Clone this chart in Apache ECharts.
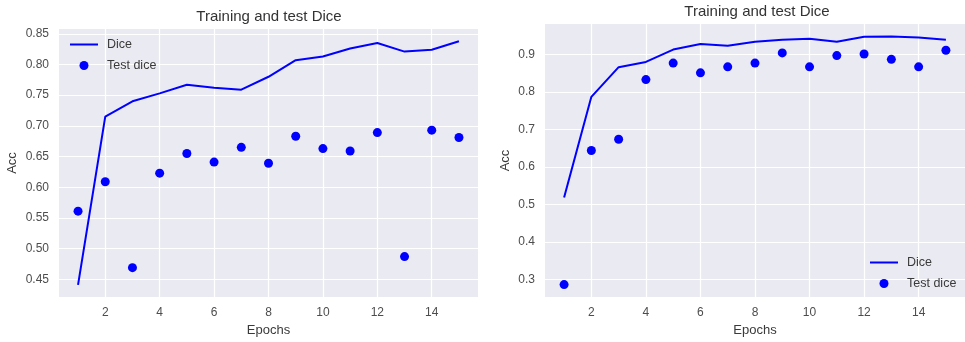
<!DOCTYPE html>
<html>
<head>
<meta charset="utf-8">
<script src="https://cdn.jsdelivr.net/npm/echarts@6/dist/echarts.min.js"></script>
<style>
  html, body { margin: 0; padding: 0; background: #ffffff; }
  #chart { width: 965px; height: 342px; }
</style>
</head>
<body>
<div id="chart"></div>
<script>
// Epoch numbers shared by both panels
const epochs = [1, 2, 3, 4, 5, 6, 7, 8, 9, 10, 11, 12, 13, 14, 15];

// Run A (left panel)
const diceA = [0.441, 0.715, 0.740, 0.753, 0.767, 0.762, 0.759, 0.780, 0.807, 0.813, 0.826, 0.835, 0.821, 0.824, 0.838];
const testDiceA = [0.561, 0.609, 0.469, 0.623, 0.655, 0.641, 0.665, 0.639, 0.683, 0.663, 0.659, 0.689, 0.487, 0.693, 0.681];

// Run B (right panel)
const diceB = [0.519, 0.787, 0.866, 0.880, 0.913, 0.928, 0.923, 0.934, 0.939, 0.942, 0.934, 0.947, 0.948, 0.945, 0.939];
const testDiceB = [0.287, 0.644, 0.674, 0.833, 0.877, 0.851, 0.867, 0.877, 0.904, 0.867, 0.897, 0.901, 0.887, 0.867, 0.911];

// Tick positions
const xTicks = [2, 4, 6, 8, 10, 12, 14];
const yTicksA = [0.45, 0.50, 0.55, 0.60, 0.65, 0.70, 0.75, 0.80, 0.85];
const yTicksB = [0.3, 0.4, 0.5, 0.6, 0.7, 0.8, 0.9];

const titleText = 'Training and test Dice';
const xName = 'Epochs';
const yName = 'Acc';
const lineName = 'Dice';
const pointName = 'Test dice';

const FONT = "'Liberation Sans', Arial, sans-serif";
const BLUE = '#0000ff';
const PANEL_BG = '#eaeaf2';
const TEXT = '#3a3a3a';
const TICK_TEXT = '#4d4d4d';

// 5% padding around the data extent on each axis
function padded(values) {
  const lo = Math.min(...values), hi = Math.max(...values);
  const m = (hi - lo) * 0.05;
  return [lo - m, hi + m];
}

const xRange = padded(epochs);
const yRangeA = padded(diceA.concat(testDiceA));
const yRangeB = padded(diceB.concat(testDiceB));

function xAxis(gridIndex) {
  return {
    type: 'value', gridIndex,
    min: xRange[0], max: xRange[1],
    name: xName, nameLocation: 'middle', nameGap: 27,
    nameTextStyle: { fontFamily: FONT, fontSize: 13, color: TEXT },
    axisLine: { show: false },
    axisTick: { show: false, customValues: xTicks },
    axisLabel: { customValues: xTicks, margin: 10, fontFamily: FONT, fontSize: 12, color: TICK_TEXT },
    splitLine: { show: true, lineStyle: { color: '#ffffff', width: 1.2 } }
  };
}

function yAxis(gridIndex, range, ticks, digits, gap) {
  return {
    type: 'value', gridIndex,
    min: range[0], max: range[1],
    name: yName, nameLocation: 'middle', nameGap: gap,
    nameTextStyle: { fontFamily: FONT, fontSize: 13, color: TEXT },
    axisLine: { show: false },
    axisTick: { show: false, customValues: ticks },
    axisLabel: {
      customValues: ticks, margin: 10, fontFamily: FONT, fontSize: 12, color: TICK_TEXT,
      formatter: v => v.toFixed(digits)
    },
    splitLine: { show: true, lineStyle: { color: '#ffffff', width: 1.2 } }
  };
}

function pairs(ys) { return epochs.map((e, i) => [e, ys[i]]); }

function lineSeries(idx, ys) {
  return {
    name: lineName, type: 'line', xAxisIndex: idx, yAxisIndex: idx,
    data: pairs(ys), symbol: 'none', smooth: false,
    lineStyle: { color: BLUE, width: 2 }, itemStyle: { color: BLUE },
    animation: false, z: 3
  };
}

function pointSeries(idx, ys) {
  return {
    name: pointName, type: 'scatter', xAxisIndex: idx, yAxisIndex: idx,
    data: pairs(ys), symbol: 'circle', symbolSize: 9,
    itemStyle: { color: BLUE, opacity: 1 },
    animation: false, z: 4
  };
}

// Legend: a plain line swatch for the curve, a dot for the test points
function legend(left, top) {
  return {
    orient: 'vertical', left, top, padding: 0,
    itemWidth: 28, itemHeight: 9, itemGap: 8,
    data: [
      { name: lineName, itemStyle: { color: 'rgba(0,0,0,0)', opacity: 0 } },
      { name: pointName }
    ],
    selectedMode: false,
    textStyle: { fontFamily: FONT, fontSize: 12.5, color: TEXT, padding: [0, 0, 0, 4] }
  };
}

const chart = echarts.init(document.getElementById('chart'), null, { renderer: 'canvas' });
chart.setOption({
  backgroundColor: '#ffffff',
  animation: false,
  title: [
    { text: titleText, left: 269, top: 9, padding: 0, textAlign: 'center',
      textStyle: { fontFamily: FONT, fontSize: 15, fontWeight: 'normal', color: '#333333' } },
    { text: titleText, left: 757, top: 4, padding: 0, textAlign: 'center',
      textStyle: { fontFamily: FONT, fontSize: 15, fontWeight: 'normal', color: '#333333' } }
  ],
  legend: [legend(69, 38), legend(869, 256)],
  grid: [
    { left: 59, top: 29, width: 419, height: 272, show: true, backgroundColor: PANEL_BG, borderWidth: 0 },
    { left: 545, top: 24, width: 422, height: 276, show: true, backgroundColor: PANEL_BG, borderWidth: 0 }
  ],
  xAxis: [xAxis(0), xAxis(1)],
  yAxis: [
    yAxis(0, yRangeA, yTicksA, 2, 40),
    yAxis(1, yRangeB, yTicksB, 1, 33)
  ],
  series: [
    lineSeries(0, diceA), pointSeries(0, testDiceA),
    lineSeries(1, diceB), pointSeries(1, testDiceB)
  ]
});
</script>
</body>
</html>
